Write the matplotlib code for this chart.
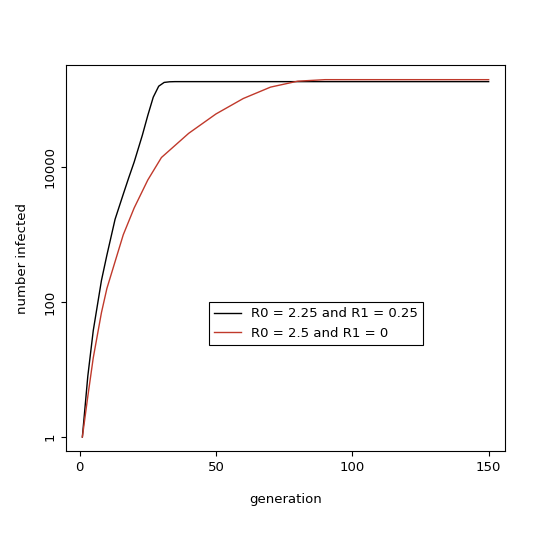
import matplotlib
matplotlib.use("Agg")
import matplotlib.pyplot as plt

gen_a = [1, 3, 5, 8, 10, 13, 16, 18, 20, 23, 25, 27, 29, 31, 33, 35, 150]
inf_a = [1, 8, 38, 210, 500, 1700, 4000, 7000, 12000, 30000, 59000, 110000, 160000, 182000, 186000, 187000, 187000]

gen_b = [1, 3, 5, 8, 10, 13, 16, 20, 25, 30, 40, 50, 60, 70, 80, 90, 150]
inf_b = [1, 4, 15, 70, 160, 400, 1000, 2500, 6500, 14000, 32000, 62000, 105000, 155000, 190000, 200000, 200000]

fig = plt.figure(figsize=(5.4, 5.34), dpi=100)
ax = fig.add_axes([66 / 540, 1 - 451 / 534, 439 / 540, 386 / 534])
ax.plot(gen_a, inf_a, color="black", lw=1, label="R0 = 2.25 and R1 = 0.25")
ax.plot(gen_b, inf_b, color="#c0392b", lw=1, label="R0 = 2.5 and R1 = 0")
ax.set_yscale("log")
ax.set_xlim(-5, 156)
ax.set_ylim(0.62, 3.3e5)
ax.set_yticks([1, 100, 10000])
ax.set_yticklabels(["1", "100", "10000"], rotation=90, va="center")
ax.minorticks_off()
ax.set_xticks([0, 50, 100, 150])
ax.tick_params(labelsize=9.5)
ax.set_xlabel("generation", fontsize=9.5, labelpad=14)
ax.set_ylabel("number infected", fontsize=9.5, labelpad=10)
leg = ax.legend(loc="center", bbox_to_anchor=(0.57, 0.33), fontsize=9.5,
                fancybox=False, edgecolor="black", framealpha=1)
leg.get_frame().set_linewidth(0.8)
fig.savefig("out.png")
